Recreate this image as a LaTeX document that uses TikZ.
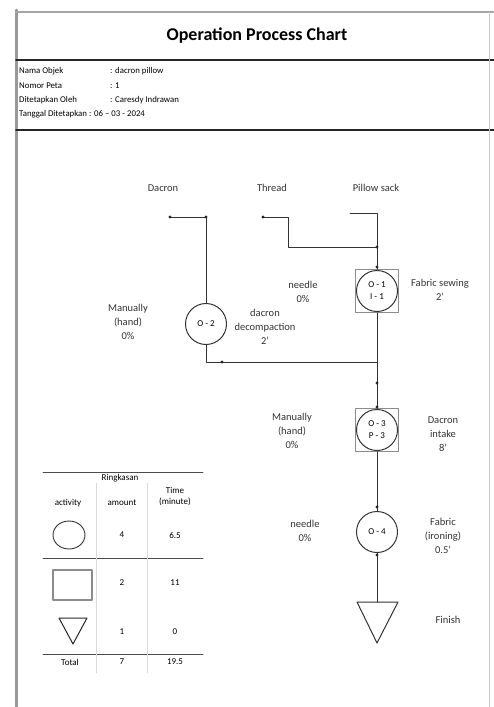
\documentclass[tikz,border=0pt]{standalone}
\usepackage{fontspec}
\setmainfont{Carlito}
\begin{document}
\begin{tikzpicture}[x=1pt, y=-1pt, font=\fontsize{10.5}{14}\selectfont, line join=round, line cap=round, >=stealth,
    opc/.style={draw=black!80, circle, minimum size=41pt, inner sep=0pt, line width=1pt, align=center, font=\fontsize{9}{12}\selectfont},
    insp/.style={draw=black!45, minimum size=43pt, inner sep=0pt, line width=.7pt},
    lbl/.style={align=center, text=black!80},
    info/.style={anchor=west, inner sep=0pt, font=\fontsize{8.8}{11}\selectfont},
    flow/.style={draw=black!80, line width=1pt},
    cell/.style={inner sep=0pt, align=center, font=\fontsize{9}{11}\selectfont}]
	\useasboundingbox (0,0) rectangle (494,707);
	% frame
	\draw[black!40, line width=3] (16,10) -- (16,707);
	\draw[black!35, line width=2] (16,12) -- (494,12);
	\draw[black!85, line width=1.6] (16,60) -- (494,60);
	\draw[black!85, line width=1.6] (16,130) -- (494,130);
	\draw[black!20, line width=.6] (489,12) -- (489,707);
	\node[font=\bfseries\fontsize{18}{20}\selectfont] (title) at (257,36) {Operation Process Chart};
	% header data
	\node[info] (nama) at (19,71) {Nama Objek};
	\node[info] (nomor) at (19,85.5) {Nomor Peta};
	\node[info] (oleh) at (19,100) {Ditetapkan Oleh};
	\node[info] (tgl) at (19,114) {Tanggal Ditetapkan};
	\node[info] (namaV) at (110,71) {: dacron pillow};
	\node[info] (nomorV) at (110,85.5) {: 1};
	\node[info] (olehV) at (110,100) {: Caresdy Indrawan};
	\node[info] (tglV) at (89,114) {: 06 -- 03 - 2024};
	% materials
	\node[lbl] (dacron) at (163,188) {Dacron};
	\node[lbl] (thread) at (272,188) {Thread};
	\node[lbl] (sack) at (376,188) {Pillow sack};
	\coordinate (dacEnd) at (170,217);
	\coordinate (thrEnd) at (263,217);
	\coordinate (thrBend) at (288,247);
	\coordinate (sackEnd) at (350,213);
	\coordinate (merge) at (377,362);
	% operations
	\node[insp] (box1) at (377,291) {};
	\node[opc] (o1) at (377,291) {O - 1\\I - 1};
	\node[opc] (o2) at (206,324) {O - 2};
	\node[insp] (box3) at (377,430) {};
	\node[opc] (o3) at (377,430) {O - 3\\P - 3};
	\node[opc] (o4) at (377,532) {O - 4};
	\coordinate (fin) at (377,602);
	\draw[flow] (357,602) -- (398,602) -- (377,643) -- cycle;
	% connectors
	\draw[flow] (dacEnd) -- (dacEnd -| o2) -- (o2.north);
	\draw[flow] (thrEnd) -| (thrBend) -- (thrBend -| box1);
	\draw[flow] (sackEnd) -| (box1.north);
	\draw[flow] (o2.south) |- (merge);
	\draw[flow] (box1.south) -- (box3.north);
	\draw[flow] (box3.south) -- (o4.north);
	\draw[flow] (o4.south) -- (fin);
	\foreach \p in {(170,217),(206,217),(263,217),(377,247),(377,267),(222,362),(377,383),(377,407),(377,507),(377,555)}
		\fill[black!85] \p circle (1.7);
	% labels
	\node[lbl] (m2) at (128,322) {Manually\\(hand)\\0\%};
	\node[lbl] (d2) at (265,327) {dacron\\decompaction\\2'};
	\node[lbl] (n1) at (303,292) {needle\\0\%};
	\node[lbl] (f1) at (440,290) {Fabric sewing\\2'};
	\node[lbl] (m3) at (292,431) {Manually\\(hand)\\0\%};
	\node[lbl] (p3) at (443,434) {Dacron\\intake\\8'};
	\node[lbl] (n4) at (305,531) {needle\\0\%};
	\node[lbl] (f4) at (443,536) {Fabric\\(ironing)\\0.5'};
	\node[lbl] (finish) at (448,620) {Finish};
	% summary table
	\draw[black!70, line width=.8] (43,472) -- (203,472);
	\draw[black!70, line width=.8] (43,558) -- (203,558);
	\draw[black!70, line width=.8] (43,654) -- (203,654);
	\draw[black!15] (96,483) -- (96,673) (147,483) -- (147,673);
	\node[cell] (ringkas) at (120,478) {Ringkasan};
	\node[cell] (hAct) at (68,503) {activity};
	\node[cell] (hAmt) at (122,503) {amount};
	\node[cell] (hTime) at (175,497) {Time\\(minute)};
	\draw[black!80, line width=.9] (69,535) ellipse (16 and 14);
	\draw[black!45, line width=1.2] (53,570) rectangle (92,600);
	\draw[black!85, line width=1] (59,618) -- (87,618) -- (73,644) -- cycle;
	\node[cell] (a1) at (122,535) {4};
	\node[cell] (t1) at (175,535) {6.5};
	\node[cell] (a2) at (122,583) {2};
	\node[cell] (t2) at (175,583) {11};
	\node[cell] (a3) at (122,632) {1};
	\node[cell] (t3) at (175,632) {0};
	\node[cell] (total) at (70,662) {Total};
	\node[cell] (aT) at (122,662) {7};
	\node[cell] (tT) at (175,662) {19.5};
\end{tikzpicture}
\end{document}
